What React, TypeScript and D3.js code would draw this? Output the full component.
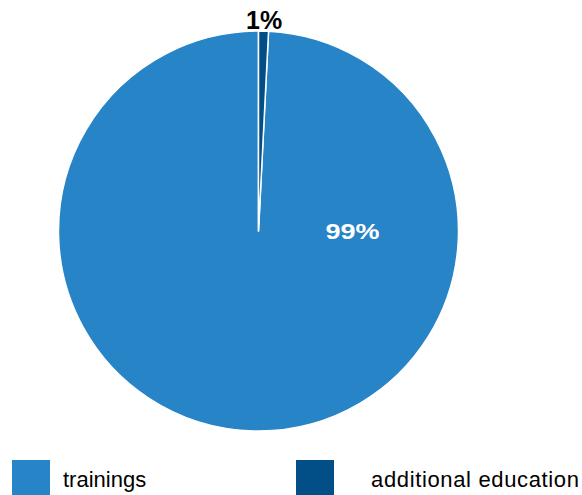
import React from "react";
import * as d3 from "d3";

const categories = ["trainings", "additional education"];
const values = [99.2, 0.8];
const colors = ["#2684C7", "#024F88"];

export default function App() {
  const width = 582;
  const height = 495;
  const cx = 258.5;
  const cy = 231;
  const r = 200;
  const total = d3.sum(values);
  const startAngle = (values[1] / total) * 2 * Math.PI;
  const pie = d3
    .pie<number>()
    .sort(null)
    .value((d) => d)
    .startAngle(startAngle)
    .endAngle(startAngle + 2 * Math.PI);
  const arcs = pie(values);
  const arc = d3.arc<d3.PieArcDatum<number>>().innerRadius(0).outerRadius(r);
  const fmt = (v: number) => `${Math.round((v / total) * 100)}%`;

  const big = arcs[0];
  const small = arcs[1];
  const smallMid = (small.startAngle + small.endAngle) / 2;
  const smallX = Math.sin(smallMid) * (r + 25);

  return (
    <svg
      width={width}
      height={height}
      style={{ position: "absolute", left: 0, top: 0, fontFamily: "'Liberation Sans', Arial, sans-serif" }}
    >
      <g transform={`translate(${cx},${cy})`}>
        {arcs.map((a, i) => (
          <path key={categories[i]} d={arc(a) || ""} fill={colors[i]} stroke="#fff" strokeWidth={1.5} strokeLinejoin="round" />
        ))}
        <text
          x={r * 0.47}
          y={0}
          dy="0.35em"
          textAnchor="middle"
          fill="#fff"
          fontWeight="bold"
          fontSize={22}
          textLength={54}
          lengthAdjust="spacingAndGlyphs"
        >
          {fmt(big.data)}
        </text>
        <text
          x={smallX}
          y={-r - 2}
          textAnchor="middle"
          fill="#000"
          fontWeight="bold"
          fontSize={25}
          stroke="#fff"
          strokeWidth={2}
          paintOrder="stroke"
        >
          {fmt(small.data)}
        </text>
      </g>
      <g>
        <rect x={12} y={460} width={38} height={40} fill={colors[0]} />
        <text x={63} y={487} fontSize={22} fill="#000">
          {categories[0]}
        </text>
        <rect x={296} y={460} width={38} height={40} fill={colors[1]} />
        <text x={371} y={487} fontSize={22} fill="#000" textLength={208} lengthAdjust="spacing">
          {categories[1]}
        </text>
      </g>
    </svg>
  );
}
